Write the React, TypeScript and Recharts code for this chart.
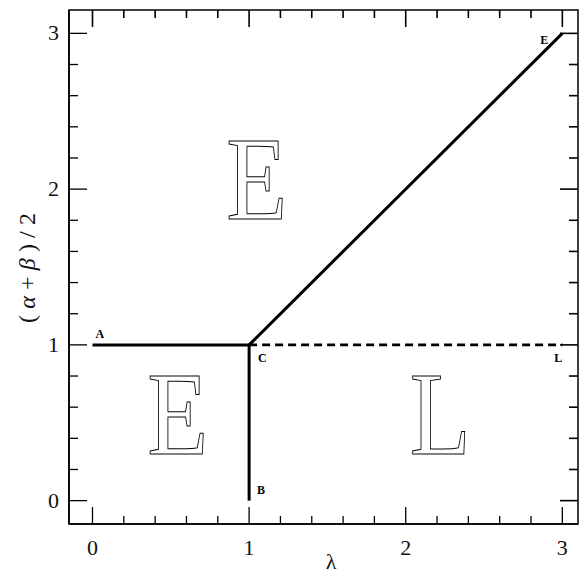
import {
  LineChart,
  Line,
  XAxis,
  YAxis,
  ReferenceDot,
  ReferenceArea,
} from "recharts";

const xDomain = [-0.15, 3.1];
const yDomain = [-0.15, 3.15];
const xTicks = [0, 0.2, 0.4, 0.6, 0.8, 1, 1.2, 1.4, 1.6, 1.8, 2, 2.2, 2.4, 2.6, 2.8, 3];
const yTicks = [0, 0.2, 0.4, 0.6, 0.8, 1, 1.2, 1.4, 1.6, 1.8, 2, 2.2, 2.4, 2.6, 2.8, 3];
const tickLabels = ["0", "1", "2", "3"];

// phase boundaries
const lineAC = [
  { x: 0, y: 1 },
  { x: 1, y: 1 },
];
const lineCB = [
  { x: 1, y: 1 },
  { x: 1, y: 0 },
];
const lineCE = [
  { x: 1, y: 1 },
  { x: 3, y: 3 },
];
const lineCL = [
  { x: 1, y: 1 },
  { x: 3, y: 1 },
];

// point tags: name, x, y, dx, dy
const pointTags: [string, number, number, number, number][] = [
  ["A", 0, 1, 3, -7],
  ["C", 1, 1, 9, 17],
  ["B", 1, 0, 8, -7],
  ["E", 3, 3, -22, 11],
  ["L", 3, 1, -8, 17],
];

// region letters: letter, x, y (baseline centre)
const regions: [string, number, number][] = [
  ["E", 1.045, 1.805],
  ["E", 0.541, 0.3],
  ["L", 2.217, 0.3],
];

const W = 579;
const H = 575;
const TOP = 10; // plot top edge
const RIGHT = 1; // space right of the plot
const PLOT_RIGHT = W - RIGHT;

const isMajor = (v: number) => Math.abs(v - Math.round(v)) < 1e-6;
const FONT = "'Liberation Serif', serif";

// bottom tick, plus the mirrored tick hanging from the top frame
const BottomTick = (props: any) => {
  const { x, y, payload } = props;
  const major = isMajor(payload.value);
  const len = major ? 17 : 8;
  return (
    <g>
      <line x1={x} x2={x} y1={y} y2={y - len} stroke="#000" strokeWidth={1.3} />
      <line x1={x} x2={x} y1={TOP} y2={TOP + len} stroke="#000" strokeWidth={1.6} />
      {major && (
        <text x={x} y={y + 31} textAnchor="middle" fontSize={22} fontFamily={FONT} fill="#111">
          {tickLabels[Math.round(payload.value)]}
        </text>
      )}
    </g>
  );
};

// left tick, plus the mirrored tick on the right frame
const LeftTick = (props: any) => {
  const { x, y, payload } = props;
  const major = isMajor(payload.value);
  const len = major ? 18 : 9;
  return (
    <g>
      <line x1={x} x2={x + len} y1={y} y2={y} stroke="#000" strokeWidth={1.3} />
      <line x1={PLOT_RIGHT} x2={PLOT_RIGHT - len} y1={y} y2={y} stroke="#000" strokeWidth={1.6} />
      {major && (
        <text x={x - 10} y={y + 7} textAnchor="end" fontSize={22} fontFamily={FONT} fill="#111">
          {tickLabels[Math.round(payload.value)]}
        </text>
      )}
    </g>
  );
};

const TagLabel = (props: any) => {
  const { viewBox, text, dx, dy } = props;
  const cx = viewBox.x + viewBox.width / 2;
  const cy = viewBox.y + viewBox.height / 2;
  return (
    <text x={cx + dx} y={cy + dy} fontSize={12} fontWeight="bold" fontFamily={FONT} fill="#000">
      {text}
    </text>
  );
};

const RegionLabel = (props: any) => {
  const { viewBox, text } = props;
  const cx = viewBox.x + viewBox.width / 2;
  const cy = viewBox.y + viewBox.height / 2;
  return (
    <text
      x={cx - 30}
      y={cy}
      fontSize={118}
      fontFamily={FONT}
      fill="none"
      stroke="#000"
      strokeWidth={1}
      textLength={61}
      lengthAdjust="spacingAndGlyphs"
    >
      {text}
    </text>
  );
};

export default function App() {
  return (
    <div style={{ position: "absolute", left: 0, top: 0, background: "#fff" }}>
      <LineChart width={W} height={H} margin={{ top: TOP, right: RIGHT, bottom: 0, left: 0 }}>
        {/* frame: top and right edges */}
        <ReferenceArea
          x1={xDomain[0]}
          x2={xDomain[1]}
          y1={yDomain[0]}
          y2={yDomain[1]}
          fill="none"
          fillOpacity={0}
          stroke="#000"
          strokeWidth={1.5}
          strokeOpacity={1}
          ifOverflow="visible"
        />
        <Line data={lineAC} dataKey="y" stroke="#000" strokeWidth={3} dot={false} isAnimationActive={false} />
        <Line data={lineCB} dataKey="y" stroke="#000" strokeWidth={3} dot={false} isAnimationActive={false} />
        <Line data={lineCE} dataKey="y" stroke="#000" strokeWidth={3} dot={false} isAnimationActive={false} />
        <Line
          data={lineCL}
          dataKey="y"
          stroke="#000"
          strokeWidth={2.6}
          strokeDasharray="8 5"
          dot={false}
          isAnimationActive={false}
        />
        {pointTags.map(([t, x, y, dx, dy], i) => (
          <ReferenceDot
            key={`tag-${i}`}
            x={x}
            y={y}
            r={0}
            fill="none"
            stroke="none"
            label={<TagLabel text={t} dx={dx} dy={dy} />}
          />
        ))}
        {regions.map(([t, x, y], i) => (
          <ReferenceDot
            key={`reg-${i}`}
            x={x}
            y={y}
            r={0}
            fill="none"
            stroke="none"
            label={<RegionLabel text={t} />}
          />
        ))}
        <XAxis
          dataKey="x"
          type="number"
          domain={xDomain}
          ticks={xTicks}
          interval={0}
          height={51}
          tickSize={0}
          tickMargin={0}
          tick={<BottomTick />}
          axisLine={{ stroke: "#000", strokeWidth: 1.5 }}
          allowDataOverflow
        />
        <YAxis
          dataKey="y"
          type="number"
          domain={yDomain}
          ticks={yTicks}
          interval={0}
          width={69}
          tickSize={0}
          tickMargin={0}
          tick={<LeftTick />}
          axisLine={{ stroke: "#000", strokeWidth: 1.5 }}
          allowDataOverflow
        />
        <text x={331} y={569} textAnchor="middle" fontSize={22} fontFamily={FONT} fill="#111">
          λ
        </text>
        <text
          x={35}
          y={268}
          textAnchor="middle"
          fontSize={24}
          fontFamily={FONT}
          fill="#111"
          textLength={110}
          lengthAdjust="spacing"
          transform="rotate(-90 35 268)"
        >
          (<tspan fontStyle="italic">α</tspan>+<tspan fontStyle="italic">β</tspan>)/2
        </text>
      </LineChart>
    </div>
  );
}
